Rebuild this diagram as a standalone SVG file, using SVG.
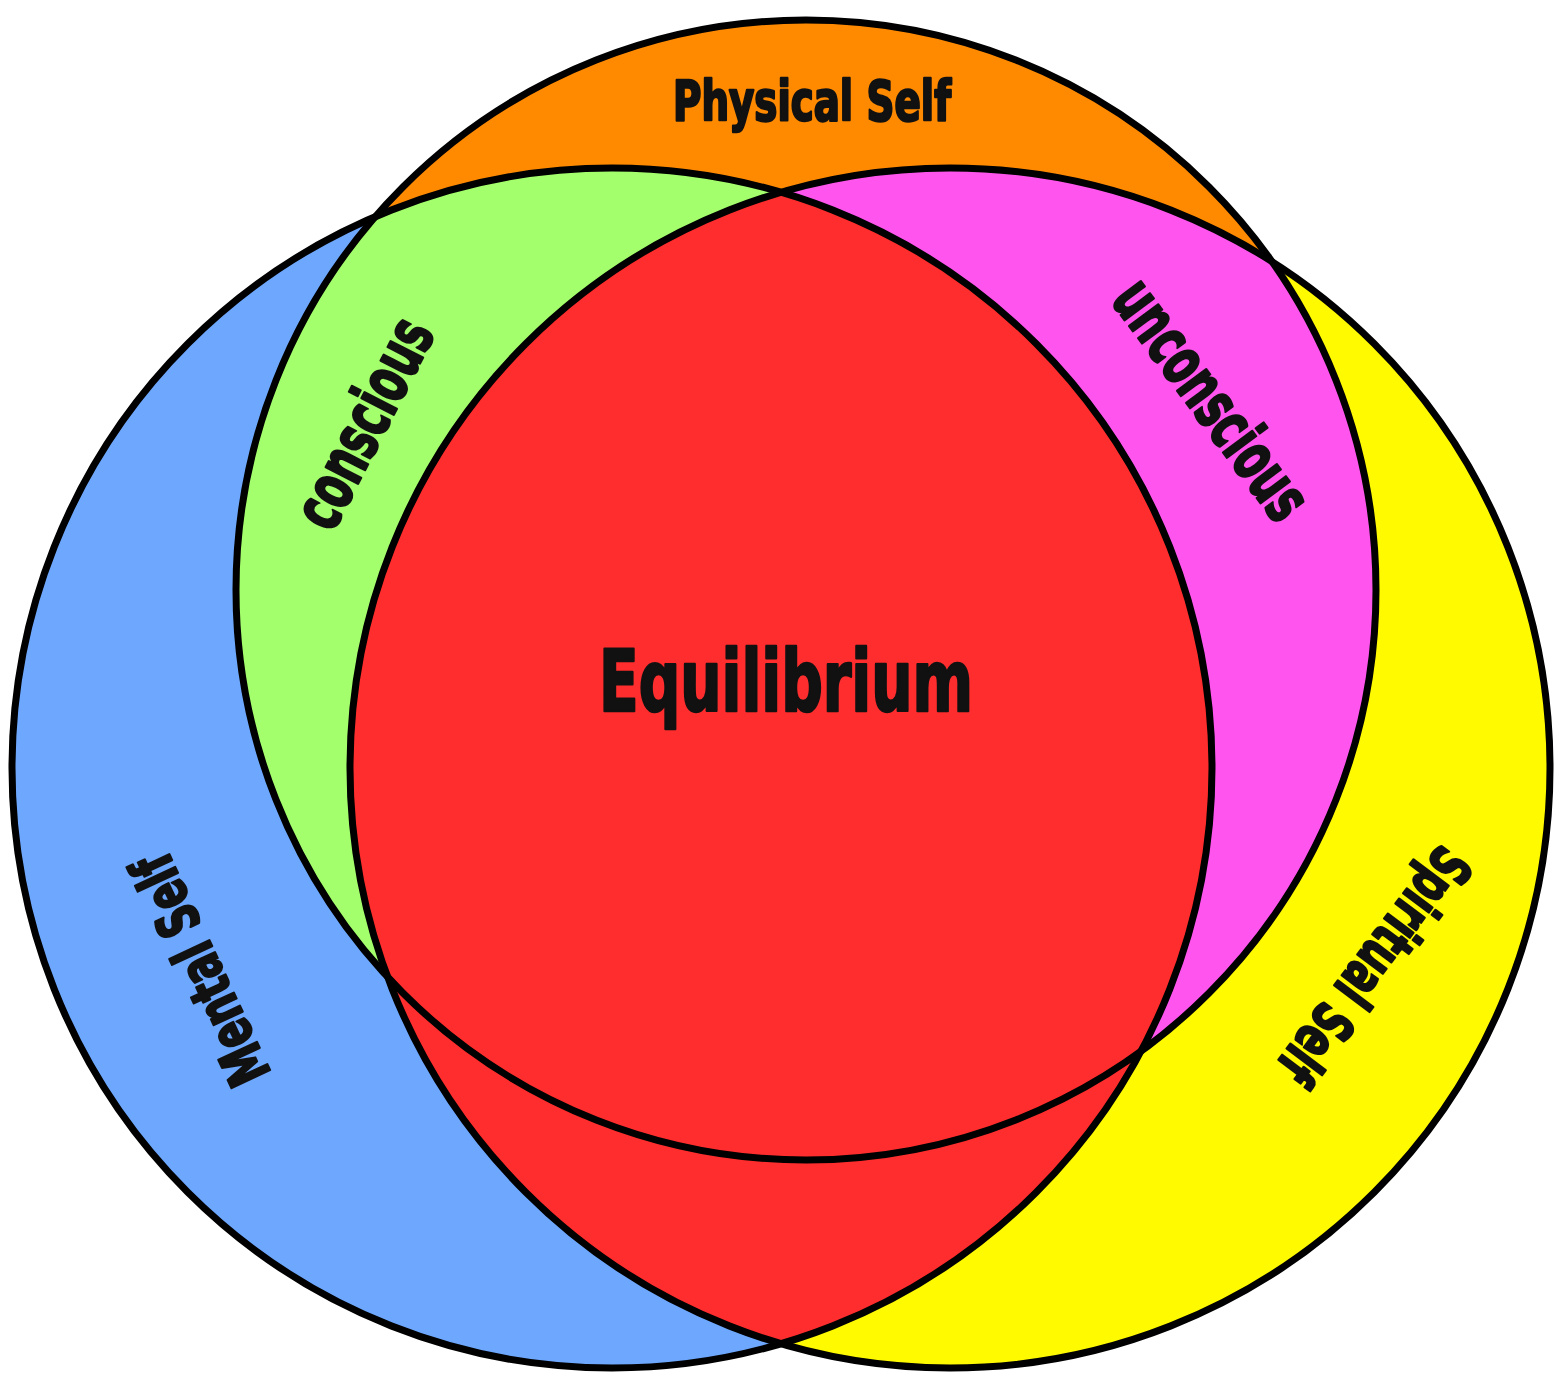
<svg xmlns="http://www.w3.org/2000/svg" width="1563" height="1375" viewBox="0 0 1563 1375">
<style>
.c{stroke:#000;stroke-width:7;fill:none}
.t{font-family:"Liberation Sans Narrow","DejaVu Sans Condensed","Liberation Sans",sans-serif;font-weight:bold;fill:#111;stroke:#111;stroke-width:2.5;stroke-linejoin:round;text-anchor:middle}
</style>
<defs>
<clipPath id="clipTop"><circle cx="806" cy="590" r="570"/></clipPath>
<clipPath id="clipLeft"><circle cx="612" cy="768" r="600"/></clipPath>
</defs>
<rect width="1563" height="1375" fill="#fff"/>
<g id="physical-self">
<circle cx="806" cy="590" r="570" fill="#FF8A00"/>
</g>
<g id="mental-self">
<circle cx="612" cy="768" r="600" fill="#6EA8FE"/>
</g>
<g id="spiritual-self">
<circle cx="950" cy="768" r="600" fill="#FFFA00"/>
</g>
<g id="conscious">
<circle cx="612" cy="768" r="600" fill="#A4FF6C" clip-path="url(#clipTop)"/>
</g>
<g id="unconscious">
<circle cx="950" cy="768" r="600" fill="#FF55EE" clip-path="url(#clipTop)"/>
</g>
<g id="equilibrium">
<circle cx="950" cy="768" r="600" fill="#FF2D2D" clip-path="url(#clipLeft)"/>
</g>
<g id="outlines">
<circle class="c" cx="806" cy="590" r="570"/>
<circle class="c" cx="612" cy="768" r="600"/>
<circle class="c" cx="950" cy="768" r="600"/>
</g>
<g id="labels">
<text class="t" x="812" y="120" font-size="56" textLength="278" lengthAdjust="spacingAndGlyphs">Physical Self</text>
<text class="t" x="786" y="711" font-size="86" textLength="374" lengthAdjust="spacingAndGlyphs">Equilibrium</text>
<text class="t" font-size="66" textLength="226" lengthAdjust="spacingAndGlyphs" transform="translate(368,425) rotate(-62.8)" y="18">conscious</text>
<text class="t" font-size="66" textLength="281" lengthAdjust="spacingAndGlyphs" transform="translate(1208,402) rotate(53.4)" y="18">unconscious</text>
<text class="t" font-size="58" textLength="248" lengthAdjust="spacingAndGlyphs" transform="translate(200,970) rotate(-115)" y="21">Mental Self</text>
<text class="t" font-size="58" textLength="278" lengthAdjust="spacingAndGlyphs" transform="translate(1375,966) rotate(126.9)" y="21">Spiritual Self</text>
</g>
</svg>
